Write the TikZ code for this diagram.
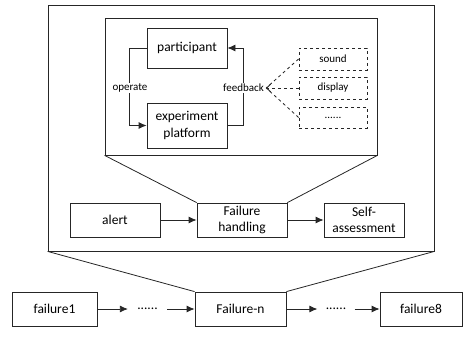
\documentclass[tikz,border=0pt]{standalone}
\usepackage{fontspec}
\setmainfont{Carlito}
\usetikzlibrary{arrows.meta}
\begin{document}
\begin{tikzpicture}[x=1pt,y=-1pt,
  line width=0.8pt, draw=black!85,
  box/.style={draw, rectangle, inner sep=0pt, align=center, font=\fontsize{13.5}{16.5}\selectfont},
  dbox/.style={draw, dashed, rectangle, inner sep=0pt, align=center, minimum width=68pt, font=\fontsize{11}{13}\selectfont},
  small/.style={inner sep=1pt, font=\fontsize{11}{13}\selectfont},
  arr/.style={-{Latex[length=8pt,width=7pt]}},
  oarr/.style={-{Straight Barb[length=4pt,width=8pt]}}
]
\useasboundingbox (0,0) rectangle (463,339);
% frames
\node[draw, minimum width=386pt, minimum height=246pt, inner sep=0pt] (outer) at (241,128) {};
\node[draw, minimum width=272pt, minimum height=137pt, inner sep=0pt] (inner) at (241,86.5) {};
% inner loop
\node[box, minimum width=80pt, minimum height=40pt] (part) at (187,48) {participant};
\node[box, minimum width=80pt, minimum height=45pt] (exp) at (187,125.5) {experiment\\platform};
\draw[arr] (part.west) -- ++(-17,0) |- (exp.west);
\draw[arr] (exp.east) -- ++(16,0) |- (part.east);
\node[small, fill=white] (op) at (130,88) {operate};
\node[small, fill=white] (fb) at (243.5,88) {feedback};
\node[dbox, minimum height=22pt] (sound) at (333,59) {sound};
\node[dbox, minimum height=22pt] (disp) at (333,88) {display};
\node[dbox, minimum height=21pt] (more) at (333,117.5) {......};
\coordinate (fbtip) at ([xshift=1pt]fb.east);
\draw[dashed] (sound.west) -- (fbtip);
\draw[dashed] (more.west) -- (fbtip);
\draw[dashed, oarr] (disp.west) -- (fbtip);
% middle row
\node[box, minimum width=90pt, minimum height=34pt] (alert) at (115,220) {alert};
\node[box, minimum width=90pt, minimum height=34pt] (fh) at (242,220) {Failure\\handling};
\node[box, minimum width=80pt, minimum height=34pt] (self) at (364,220) {Self-\\assessment};
\draw[arr] (alert.east) -- (fh.west);
\draw[arr] (fh.east) -- (self.west);
\draw (inner.south west) -- (fh.north west);
\draw (inner.south east) -- (fh.north east);
% bottom row
\node[box, minimum width=85pt, minimum height=34pt] (f1) at (54.5,309) {failure1};
\node[box, minimum width=91pt, minimum height=34pt] (fn) at (240.5,309) {Failure-n};
\node[box, minimum width=82pt, minimum height=34pt] (f8) at (421,309) {failure8};
\node[inner xsep=9pt, inner ysep=0pt, font=\fontsize{13.5}{16}\selectfont] (d1) at (147.5,309) {......};
\node[inner xsep=8pt, inner ysep=0pt, font=\fontsize{13.5}{16}\selectfont] (d2) at (336,309) {......};
\draw[arr] (f1.east) -- (d1.west);
\draw[arr] (d1.east) -- (fn.west);
\draw[arr] (fn.east) -- (d2.west);
\draw[arr] (d2.east) -- (f8.west);
\draw (outer.south west) -- (fn.north west);
\draw (outer.south east) -- (fn.north east);
\end{tikzpicture}
\end{document}
